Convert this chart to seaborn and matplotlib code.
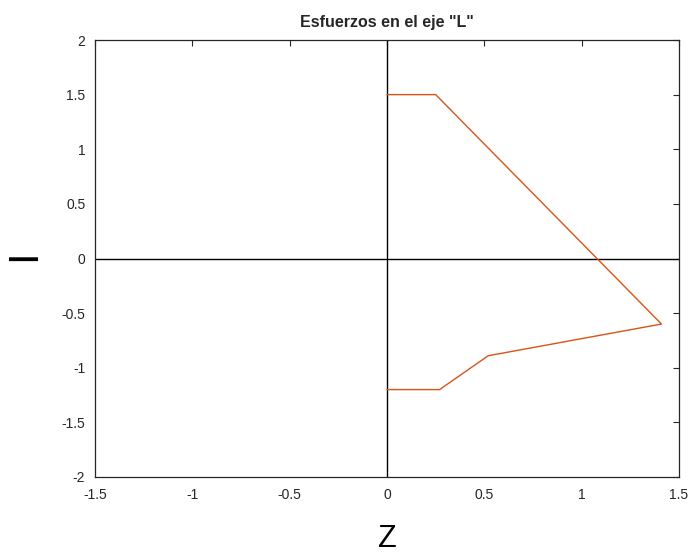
import matplotlib
matplotlib.use("Agg")
import matplotlib.pyplot as plt
import seaborn as sns
import pandas as pd

# Data
z_vals = [0.0, 0.25, 1.41, 0.52, 0.27, 0.0]
i_vals = [1.5, 1.5, -0.6, -0.89, -1.2, -1.2]
x_ticks = [-1.5, -1, -0.5, 0, 0.5, 1, 1.5]
y_ticks = [-2, -1.5, -1, -0.5, 0, 0.5, 1, 1.5, 2]
title = 'Esfuerzos en el eje "L"'

sns.set_style("white")
plt.rcParams['font.family'] = ['Liberation Sans', 'DejaVu Sans']

fig = plt.figure(figsize=(6.96, 5.56), dpi=100)
ax = fig.add_axes([95/696, 1-477/556, (679-95)/696, (477-40)/556])

df = pd.DataFrame({"Z": z_vals, "I": i_vals})
ax.axhline(0, color="black", lw=1.0, zorder=1)
ax.axvline(0, color="black", lw=1.0, zorder=1)
sns.lineplot(data=df, x="Z", y="I", sort=False, estimator=None,
             color="#D95319", lw=1.0, ax=ax, zorder=2)

ax.set_xlim(-1.5, 1.5)
ax.set_ylim(-2, 2)
ax.set_xticks(x_ticks)
ax.set_xticklabels([f"{t:g}" for t in x_ticks])
ax.set_yticks(y_ticks)
ax.set_yticklabels([f"{t:g}" for t in y_ticks])
ax.tick_params(direction="in", length=4, width=0.8, colors="#262626",
               labelsize=10, top=True, right=True, labelcolor="#262626")
ax.tick_params(axis="x", pad=8)
ax.tick_params(axis="y", pad=7)
for s in ax.spines.values():
    s.set_color("#262626")
    s.set_linewidth(0.9)

ax.set_title(title, fontsize=11.5, fontweight="bold", pad=9)
ax.set_xlabel("Z", fontsize=22, color="black")
ax.set_ylabel("I", fontsize=30, color="black")
ax.xaxis.set_label_coords(0.5, -(539 - 477) / 437, transform=ax.transAxes)
ax.yaxis.set_label_coords(-(95 - 24) / 584, 0.5 + 3 / 437, transform=ax.transAxes)
ax.xaxis.label.set_va("center")
ax.yaxis.label.set_va("center")

fig.savefig("out.png", dpi=100, facecolor="white")
